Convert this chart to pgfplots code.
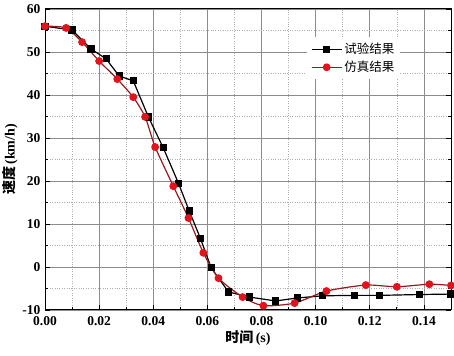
\documentclass[border=0pt]{standalone}
\usepackage{pgfplots}
\pgfplotsset{compat=1.18}
\usepackage{fontspec}
\setmainfont{Liberation Serif}
\newfontfamily\cjk{Noto Sans CJK SC}
\definecolor{simline}{RGB}{150,25,30}
\definecolor{simmark}{RGB}{225,20,30}
\definecolor{gridc}{RGB}{140,140,140}
\begin{document}
\begin{tikzpicture}
\begin{axis}[
  scale only axis,
  width=406pt, height=301pt,
  xmin=0, xmax=0.15, ymin=-10, ymax=60,
  xtick={0,0.02,...,0.14},
  ytick={-10,0,...,60},
  minor x tick num=1, minor y tick num=1,
  /pgf/number format/assume math mode=true,
  tick label style={font=\bfseries\fontsize{13.5}{14}\selectfont},
  xticklabel style={yshift=-2.5pt, /pgf/number format/.cd,fixed,fixed zerofill,precision=2},
  yticklabel style={xshift=-1pt},
  tick align=inside,
  xtick pos=bottom, ytick pos=both,
  major tick length=5pt, minor tick length=3pt,
  axis line style={line width=1pt},
  every tick/.style={black, line width=0.8pt},
  grid=both,
  major grid style={gridc, line width=0.7pt},
  minor grid style={gridc!70, dotted, line width=0.6pt},
  xlabel={{\cjk\bfseries 时间}\,{\bfseries (s)}},
  ylabel={{\cjk\bfseries 速度}\,{\bfseries (km/h)}},
  label style={font=\fontsize{14}{16}\selectfont},
  xlabel style={yshift=1pt},
  ylabel style={yshift=-2pt},
  legend style={at={(0.645,0.907)}, anchor=north west, draw=none, fill=white,
    font=\cjk\fontsize{12.5}{14}\selectfont, row sep=2pt, inner sep=4pt},
  legend cell align=left,
  legend image code/.code={\draw[mark repeat=2,mark phase=2] plot coordinates {(0pt,0pt) (15pt,0pt) (30pt,0pt)};},
]
\addplot[black, line width=1.2pt, mark=square*, mark size=3pt, mark options={solid, fill=black}] coordinates {
(0,56) (0.0100,55.1) (0.0170,50.7) (0.0226,48.4) (0.0274,44.4) (0.0326,43.3)
(0.0382,34.9) (0.0437,27.7) (0.0493,19.5) (0.0533,13.0) (0.0574,6.7) (0.0614,-0.2)
(0.0678,-5.8) (0.0756,-7.0) (0.0852,-7.9) (0.0933,-7.2) (0.1026,-6.7) (0.1144,-6.6)
(0.1237,-6.6) (0.1385,-6.4) (0.1500,-6.3)
};
\addlegendentry{试验结果}
\addplot[simline, line width=1.2pt, smooth, tension=0.4, mark=*, mark size=3.3pt, mark options={solid, fill=simmark, draw=simmark}] coordinates {
(0,56) (0.0078,55.6) (0.0137,52.3) (0.0200,47.9) (0.0267,43.7) (0.0326,39.5)
(0.0370,34.9) (0.0407,27.9) (0.0474,18.8) (0.0530,11.4) (0.0585,3.3) (0.0641,-2.6)
(0.0730,-7.0) (0.0807,-9.0) (0.0922,-8.4) (0.1040,-5.6) (0.1185,-4.2) (0.1300,-4.6)
(0.1420,-4.0) (0.1500,-4.3)
};
\addlegendentry{仿真结果}
\end{axis}
\pgfresetboundingbox
\path ([shift={(-45pt,-46pt)}]current axis.south west) rectangle ([shift={(3pt,9pt)}]current axis.north east);
\end{tikzpicture}
\end{document}
